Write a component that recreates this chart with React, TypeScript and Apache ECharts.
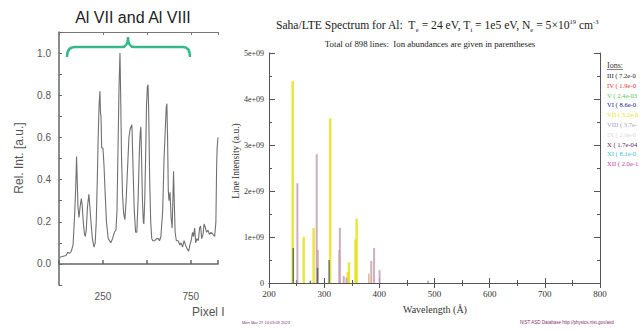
import React, { useEffect, useRef } from 'react';
import * as echarts from 'echarts';

// ---------- Left panel data ----------
const leftTitle = 'Al VII and Al VIII';
const leftYName = 'Rel. Int. [a.u.]';
const leftXName = 'Pixel I';
const leftXLabels = [250, 750];
const leftSpectrum: [number, number][] = [
  [0, 0.03], [20, 0.035], [40, 0.04], [50, 0.055], [60, 0.05], [70, 0.06], [80, 0.09],
  [90, 0.25], [95, 0.36], [100, 0.51], [103, 0.42], [108, 0.27], [114, 0.22], [120, 0.27],
  [127, 0.31], [132, 0.28], [138, 0.2], [145, 0.14], [150, 0.13], [155, 0.16], [162, 0.27],
  [170, 0.33], [175, 0.28], [182, 0.2], [190, 0.12], [199, 0.08], [206, 0.1], [212, 0.2],
  [218, 0.4], [223, 0.6], [228, 0.75], [233, 0.82], [236, 0.72], [239, 0.7], [243, 0.55],
  [250, 0.55], [256, 0.47], [262, 0.35], [270, 0.2], [280, 0.12], [295, 0.1], [305, 0.12],
  [315, 0.15], [324, 0.16], [330, 0.25], [336, 0.55], [342, 0.85], [347, 1.0], [351, 0.8],
  [356, 0.5], [362, 0.32], [368, 0.24], [375, 0.21], [382, 0.3], [390, 0.45], [398, 0.6],
  [405, 0.64], [415, 0.66], [420, 0.5], [428, 0.26], [436, 0.15], [443, 0.15], [450, 0.3],
  [458, 0.55], [462, 0.62], [466, 0.65], [470, 0.5], [475, 0.3], [480, 0.2], [483, 0.19],
  [488, 0.3], [494, 0.55], [498, 0.75], [503, 0.84], [507, 0.85], [511, 0.7], [516, 0.4],
  [522, 0.2], [528, 0.12], [534, 0.11], [545, 0.11], [555, 0.12], [565, 0.12], [572, 0.11],
  [580, 0.13], [590, 0.25], [598, 0.5], [604, 0.62], [610, 0.74], [614, 0.76], [618, 0.6],
  [622, 0.35], [626, 0.3], [632, 0.34], [638, 0.22], [644, 0.17], [648, 0.3], [652, 0.44],
  [656, 0.3], [661, 0.15], [668, 0.11], [678, 0.11], [688, 0.09], [695, 0.1], [703, 0.08],
  [712, 0.11], [720, 0.09], [730, 0.07], [738, 0.06], [745, 0.09], [752, 0.11], [760, 0.15],
  [766, 0.13], [772, 0.17], [778, 0.1], [785, 0.12], [793, 0.11], [800, 0.17], [806, 0.18],
  [812, 0.12], [820, 0.14], [826, 0.19], [834, 0.17], [840, 0.15], [848, 0.16], [856, 0.14],
  [866, 0.15], [876, 0.14], [886, 0.13], [893, 0.2], [897, 0.45], [900, 0.55], [905, 0.6],
];

// ---------- Right panel data (intensity in units of 1e9) ----------
const rightSubtitle = 'Total of 898 lines:  Ion abundances are given in parentheses';
const rightYName = 'Line Intensity (a.u.)';
const rightXName = 'Wavelength (Å)';
const footerLeft = 'Mon Mar 27 14:03:09 2023';
const footerRight = 'NIST ASD Database http://physics.nist.gov/asd';
const ionNames = ['III', 'IV', 'V', 'VI', 'VII', 'VIII', 'IX', 'X', 'XI', 'XII'];
const ionAbundances = ['7.2e-06', '1.9e-05', '2.4e-03', '8.6e-02', '3.2e-01', '3.7e-01', '2.0e-01', '1.7e-04', '8.1e-05', '2.0e-10'];
const ionColors = ['#222222', '#e03030', '#50c850', '#202090', '#e6e020', '#a8a0c0', '#d8d8d8', '#602060', '#40c0d0', '#c040a0'];
const linesVI: [number, number][] = [[244, 0.76], [275, 0.05], [288, 0.33], [309, 0.5]];
const linesVII: [number, number][] = [
  [242, 4.39], [262, 1.0], [280, 1.2], [310, 3.58], [342, 0.24], [344, 0.45], [356, 0.95], [358, 1.4],
];
const linesVIII: [number, number][] = [
  [251, 2.17], [286, 2.8], [288, 0.72], [327, 0.72], [328, 1.2], [335, 0.15], [340, 0.12],
  [385, 0.48], [390, 0.76], [400, 0.28], [488, 0.05],
];
const linesIX: [number, number][] = [[381, 0.2]];

export default function App() {
  const ref = useRef<HTMLDivElement>(null);
  useEffect(() => {
    if (!ref.current) return;
    const chart = echarts.init(ref.current, undefined, { renderer: 'svg' });

    echarts.graphic.registerShape(
      'bracket',
      echarts.graphic.extendPath(
        'M67,57 Q67,47 75,47 L122,47 Q128,47 128,37 Q128,47 134,47 L183,47 Q190,47 190,57',
        {}
      ) as any
    );

    const leftGray = '#666';
    const serif = '"Liberation Serif", "DejaVu Serif", serif';
    const sans = '"Liberation Sans", Arial, sans-serif';

    const barSeries = (name: string, data: [number, number][], color: string, width: number) => ({
      type: 'bar',
      name,
      xAxisIndex: 2,
      yAxisIndex: 1,
      data,
      barWidth: width,
      barGap: '-100%',
      itemStyle: { color, opacity: 0.85 },
      silent: true,
    });

    const legendGraphics: any[] = ionNames.map((n, i) => ({
      type: 'text',
      x: 607,
      y: 75.5 + i * 9.8,
      style: {
        text: `${n} ( ${ionAbundances[i]} )`,
        fill: ionColors[i],
        font: `6.6px ${serif}`,
        verticalAlign: 'middle',
        width: 33,
        overflow: 'truncate',
        ellipsis: '',
      },
    }));

    chart.setOption({
      animation: false,
      backgroundColor: '#ffffff',
      grid: [
        { left: 59, top: 32, width: 159, height: 253 },
        { left: 269, top: 53, width: 331, height: 230 },
      ],
      xAxis: [
        {
          type: 'value', gridIndex: 0, min: 0, max: 905, interval: 250,
          axisLine: { lineStyle: { color: leftGray, width: 1.5 } },
          axisTick: { inside: true, length: 4, lineStyle: { color: leftGray, width: 1.5 } },
          axisLabel: {
            color: '#555', fontSize: 10, fontFamily: sans, margin: 6,
            formatter: (v: number) => (leftXLabels.includes(v) ? String(v) : ''),
          },
          splitLine: { show: false },
        },
        {
          type: 'value', gridIndex: 0, min: 0, max: 905, interval: 250, position: 'top',
          axisLine: { lineStyle: { color: '#777', width: 1.2 } },
          axisTick: { inside: true, length: 3, lineStyle: { color: '#777' } },
          axisLabel: { show: false },
          splitLine: { show: false },
        },
        {
          type: 'value', gridIndex: 1, min: 200, max: 800, interval: 100,
          axisLine: { lineStyle: { color: '#555', width: 1 } },
          axisTick: { inside: true, length: 5, lineStyle: { color: '#555' } },
          minorTick: { show: true, splitNumber: 2, length: 3, lineStyle: { color: '#555' } },
          axisLabel: { color: '#333', fontSize: 9, fontFamily: serif, margin: 6 },
          splitLine: { show: false },
        },
        {
          type: 'value', gridIndex: 1, min: 200, max: 800, interval: 100, position: 'top',
          axisLine: { lineStyle: { color: '#555', width: 1 } },
          axisTick: { inside: true, length: 5, lineStyle: { color: '#555' } },
          minorTick: { show: true, splitNumber: 2, length: 3, lineStyle: { color: '#555' } },
          axisLabel: { show: false },
          splitLine: { show: false },
        },
      ],
      yAxis: [
        {
          type: 'value', gridIndex: 0, min: -0.1, max: 1.1, interval: 0.1,
          axisLine: { show: true, lineStyle: { color: leftGray, width: 1.5 } },
          axisTick: { show: true, inside: true, length: 3, lineStyle: { color: leftGray } },
          axisLabel: {
            color: '#555', fontSize: 10, fontFamily: sans, margin: 8,
            formatter: (v: number) => {
              const r = Math.round(v * 10);
              return r >= 0 && r <= 10 && r % 2 === 0 ? (r / 10).toFixed(1) : '';
            },
          },
          splitLine: { show: false },
        },
        {
          type: 'value', gridIndex: 1, min: 0, max: 5, interval: 1,
          axisLine: { show: true, lineStyle: { color: '#555', width: 1 } },
          axisTick: { show: true, inside: true, length: 6, lineStyle: { color: '#555' } },
          minorTick: { show: true, splitNumber: 2, length: 3, lineStyle: { color: '#555' } },
          axisLabel: {
            color: '#333', fontSize: 8, fontFamily: serif, margin: 5,
            formatter: (v: number) => (v === 0 ? '0' : `${v}e+09`),
          },
          splitLine: { show: false },
        },
        {
          type: 'value', gridIndex: 1, min: 0, max: 5, interval: 1, position: 'right',
          axisLine: { show: true, lineStyle: { color: '#555', width: 1 } },
          axisTick: { show: true, inside: true, length: 6, lineStyle: { color: '#555' } },
          minorTick: { show: true, splitNumber: 2, length: 3, lineStyle: { color: '#555' } },
          axisLabel: { show: false },
          splitLine: { show: false },
        },
      ],
      series: [
        {
          type: 'line',
          xAxisIndex: 0,
          yAxisIndex: 0,
          data: leftSpectrum,
          showSymbol: false,
          lineStyle: { color: '#707070', width: 1.1 },
          silent: true,
        },
        barSeries('IX', linesIX, '#e0a860', 1.5),
        barSeries('VII', linesVII, ionColors[4], 2.5),
        barSeries('VIII', linesVIII, '#c4a0b0', 2),
        barSeries('VI', linesVI, '#4f604f', 1.5),
      ],
      graphic: [
        {
          type: 'text', x: 133, y: 17,
          style: { text: leftTitle, font: `16px ${sans}`, fill: '#222', align: 'center', verticalAlign: 'middle' },
        },
        {
          type: 'bracket', x: 0, y: 0,
          style: { fill: 'none', stroke: '#36b88c', lineWidth: 2.5 },
        },
        {
          type: 'text', x: 19, y: 158, rotation: Math.PI / 2,
          style: { text: leftYName, font: `12px ${sans}`, fill: '#555', align: 'center', verticalAlign: 'middle' },
        },
        {
          type: 'text', x: 192, y: 312,
          style: { text: leftXName, font: `12px ${sans}`, fill: '#555', align: 'left', verticalAlign: 'middle' },
        },
        {
          type: 'text', x: 437, y: 25,
          style: {
            text: '{a|Saha/LTE Spectrum for Al:  T}{s|e}{a| = 24 eV, T}{s|i}{a| = 1e5 eV, N}{s|e}{a| = 5×10}{p|19}{a| cm}{p|-3}',
            align: 'center',
            verticalAlign: 'middle',
            rich: {
              a: { font: `11.6px ${serif}`, fill: '#222', lineHeight: 15 },
              s: { font: `6.5px ${serif}`, fill: '#222', lineHeight: 7, verticalAlign: 'bottom' },
              p: { font: `6.5px ${serif}`, fill: '#222', lineHeight: 7, verticalAlign: 'top' },
            },
          },
        },
        {
          type: 'text', x: 430, y: 44,
          style: { text: rightSubtitle, font: `8.8px ${serif}`, fill: '#222', align: 'center', verticalAlign: 'middle' },
        },
        {
          type: 'text', x: 236, y: 161, rotation: Math.PI / 2,
          style: { text: rightYName, font: `9.5px ${serif}`, fill: '#333', align: 'center', verticalAlign: 'middle' },
        },
        {
          type: 'text', x: 435, y: 309,
          style: { text: rightXName, font: `10px ${serif}`, fill: '#333', align: 'center', verticalAlign: 'middle' },
        },
        {
          type: 'text', x: 607, y: 65,
          style: { text: 'Ions:', font: `8px ${serif}`, fill: '#333', verticalAlign: 'middle' },
        },
        {
          type: 'line', shape: { x1: 607, y1: 69.5, x2: 623, y2: 69.5 },
          style: { stroke: '#333', lineWidth: 0.6 },
        },
        ...legendGraphics,
        {
          type: 'text', x: 242, y: 322,
          style: { text: footerLeft, font: `4px ${sans}`, fill: '#803070', verticalAlign: 'middle' },
        },
        {
          type: 'text', x: 520, y: 322,
          style: { text: footerRight, font: `4.5px ${sans}`, fill: '#803070', verticalAlign: 'middle' },
        },
      ],
    });
    return () => chart.dispose();
  }, []);
  return <div ref={ref} style={{ position: 'fixed', left: 0, top: 0, width: 640, height: 331 }} />;
}
